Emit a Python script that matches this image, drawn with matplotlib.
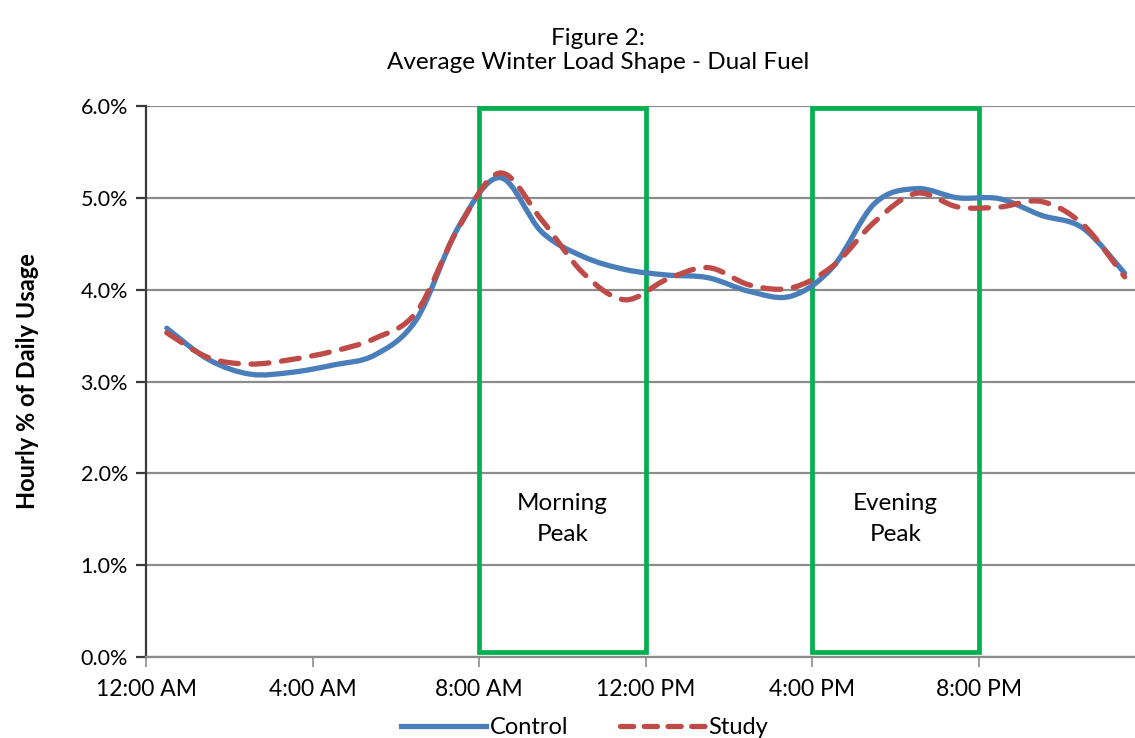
import numpy as np
import matplotlib
matplotlib.use("Agg")
import matplotlib.pyplot as plt
from matplotlib.path import Path
from matplotlib.patches import PathPatch, Rectangle
from matplotlib.lines import Line2D
from matplotlib.ticker import FuncFormatter

plt.rcParams['font.family'] = ['Lato', 'DejaVu Sans']

# hourly share of daily usage (%), one value per hour, plotted mid-hour
hours = np.arange(24) + 0.5
control = [3.58, 3.24, 3.08, 3.10, 3.18, 3.29, 3.68, 4.68, 5.22, 4.63, 4.36, 4.22,
           4.16, 4.13, 3.98, 3.93, 4.25, 4.94, 5.10, 5.00, 4.99, 4.81, 4.67, 4.18]
study = [3.53, 3.26, 3.19, 3.24, 3.33, 3.47, 3.76, 4.67, 5.27, 4.76, 4.18, 3.89,
         4.11, 4.24, 4.05, 4.02, 4.26, 4.74, 5.05, 4.90, 4.90, 4.96, 4.71, 4.14]

tick_hours = [0, 4, 8, 12, 16, 20]
tick_labels = ["12:00 AM", "4:00 AM", "8:00 AM", "12:00 PM", "4:00 PM", "8:00 PM"]

peaks = [(8, 12, "Morning\nPeak"), (16, 20, "Evening\nPeak")]

BLUE = "#4A7EBB"
RED = "#BE4B48"
GREEN = "#00B050"


def smooth_path(x, y, tension=1 / 6):
    # cubic bezier through the points, like a spreadsheet "smoothed line"
    x = np.asarray(x, float)
    y = np.asarray(y, float)
    verts = [(x[0], y[0])]
    codes = [Path.MOVETO]
    n = len(x)
    for i in range(n - 1):
        i0 = max(i - 1, 0)
        i3 = min(i + 2, n - 1)
        c1 = (x[i] + (x[i + 1] - x[i0]) * tension, y[i] + (y[i + 1] - y[i0]) * tension)
        c2 = (x[i + 1] - (x[i3] - x[i]) * tension, y[i + 1] - (y[i3] - y[i]) * tension)
        verts += [c1, c2, (x[i + 1], y[i + 1])]
        codes += [Path.CURVE4] * 3
    return Path(verts, codes)


fig = plt.figure(figsize=(11.35, 7.38), dpi=100)
ax = fig.add_axes([146 / 1135, 1 - 657 / 738, 1 - 146 / 1135, (657 - 106) / 738])

ax.set_xlim(0, 23.75)
ax.set_ylim(0, 6)
ax.set_yticks(np.arange(0, 7, 1))
ax.yaxis.set_major_formatter(FuncFormatter(lambda v, p: f"{v:.1f}%"))
ax.set_xticks(tick_hours)
ax.set_xticklabels(tick_labels)

ax.grid(axis='y', color="#8C8C8C", linewidth=1.6)
ax.set_axisbelow(True)
for side in ("top", "right"):
    ax.spines[side].set_visible(False)
ax.spines["left"].set_color("#3A3A3A")
ax.spines["left"].set_linewidth(1.6)
ax.spines["bottom"].set_color("#8C8C8C")
ax.spines["bottom"].set_linewidth(1.6)
ax.tick_params(axis='y', length=7, width=1.6, color="#3A3A3A", labelsize=15.5, pad=6)
ax.tick_params(axis='x', length=7, width=1.2, color="#8C8C8C", labelsize=16.5, pad=9)

# peak windows
for start, end, label in peaks:
    ax.add_patch(Rectangle((start, 0.05), end - start, 5.93, fill=False,
                           edgecolor=GREEN, linewidth=3.4, zorder=3))
    ax.text((start + end) / 2, 1.5, label, ha='center', va='center',
            fontsize=17.5, linespacing=1.6, zorder=4)

ax.add_patch(PathPatch(smooth_path(hours, control), fill=False, edgecolor=BLUE,
                       linewidth=3.8, capstyle='round', joinstyle='round', zorder=5))
ax.add_patch(PathPatch(smooth_path(hours, study), fill=False, edgecolor=RED,
                       linewidth=3.8, linestyle=(0, (3.4, 2.4)), capstyle='round', zorder=6))

ax.set_ylabel("Hourly % of Daily Usage", fontsize=17, fontweight='bold', labelpad=30)

fig.text(0.527, 0.948, "Figure 2:", ha='center', va='center', fontsize=17.5)
fig.text(0.527, 0.915, "Average Winter Load Shape - Dual Fuel", ha='center', va='center',
         fontsize=17.5)

handles = [Line2D([], [], color=BLUE, linewidth=3.8),
           Line2D([], [], color=RED, linewidth=3.8, linestyle=(0, (2.5, 2)),
                  dash_capstyle='round')]
fig.legend(handles, ["Control", "Study"], loc='center', bbox_to_anchor=(0.515, 0.014),
           ncol=2, frameon=False, fontsize=17, handlelength=3.6, handletextpad=0.15,
           columnspacing=2.2)

fig.savefig("out.png", dpi=100)
